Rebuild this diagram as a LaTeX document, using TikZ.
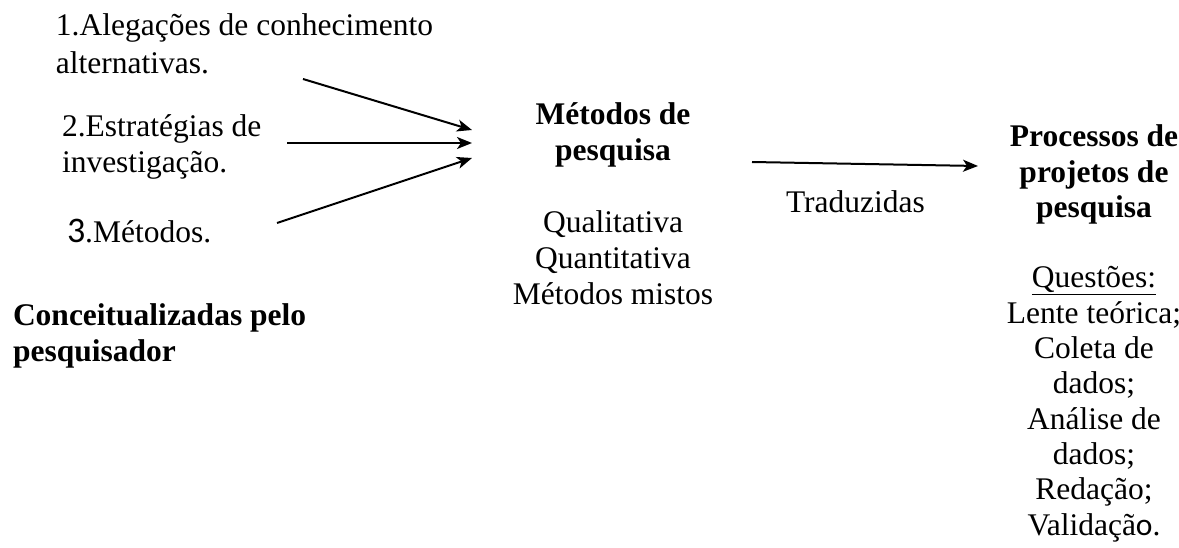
\documentclass[tikz,border=0pt]{standalone}
\usepackage{fontspec}
\setmainfont{Liberation Serif}
\newfontfamily\calib{Carlito}
\usetikzlibrary{arrows.meta}
\begin{document}
\begin{tikzpicture}[x=1pt,y=-1pt,
  lbl/.style={inner sep=0pt, outer sep=0pt, font=\fontsize{31.5}{36}\selectfont},
  conn/.style={line width=2pt, -{Stealth[length=15pt,width=12pt,inset=4pt]}}]
\useasboundingbox (0,0) rectangle (1179,548);

% left column (base anchor = baseline of the last line)
\node[lbl, anchor=base west, align=left] (a1) at (56,74) {1.Alegações de conhecimento\\[2pt]alternativas.};
\node[lbl, anchor=base west, align=left] (a2) at (62,173) {2.Estratégias de\\investigação.};
\node[lbl, anchor=base west] (a3) at (67,243) {{\calib\fontsize{36}{36}\selectfont 3}.Métodos.};
\node[lbl, anchor=base west, align=left] (cp) at (13,362) {\textbf{Conceitualizadas pelo}\\\textbf{pesquisador}};

% middle column
\node[lbl, anchor=base, align=center] (mp) at (613,305) {\textbf{Métodos de}\\\textbf{pesquisa}\\[36pt]Qualitativa\\Quantitativa\\Métodos mistos};

% translation label
\node[lbl, anchor=base west] (tr) at (786,213) {Traduzidas};

% right column
\node[lbl, anchor=base, align=center, font=\fontsize{31.5}{35.3}\selectfont] (pp) at (1094,535) {\textbf{Processos de}\\\textbf{projetos de}\\\textbf{pesquisa}\\[35.3pt]\underline{Questões:}\\Lente teórica;\\Coleta de\\dados;\\Análise de\\dados;\\Redação;\\Validaçã{\calib o}.};

% connector ends
\coordinate (s1) at (303,79);
\coordinate (s2) at (287,143);
\coordinate (s3) at (277,223);
\coordinate (t1) at (472,130);
\coordinate (t2) at (472,143);
\coordinate (t3) at (472,158);
\coordinate (s4) at (752,162);
\coordinate (t4) at (978,166);

\draw[conn] (s1) -- (t1);
\draw[conn] (s2) -- (t2);
\draw[conn] (s3) -- (t3);
\draw[conn] (s4) -- (t4);
\end{tikzpicture}
\end{document}
